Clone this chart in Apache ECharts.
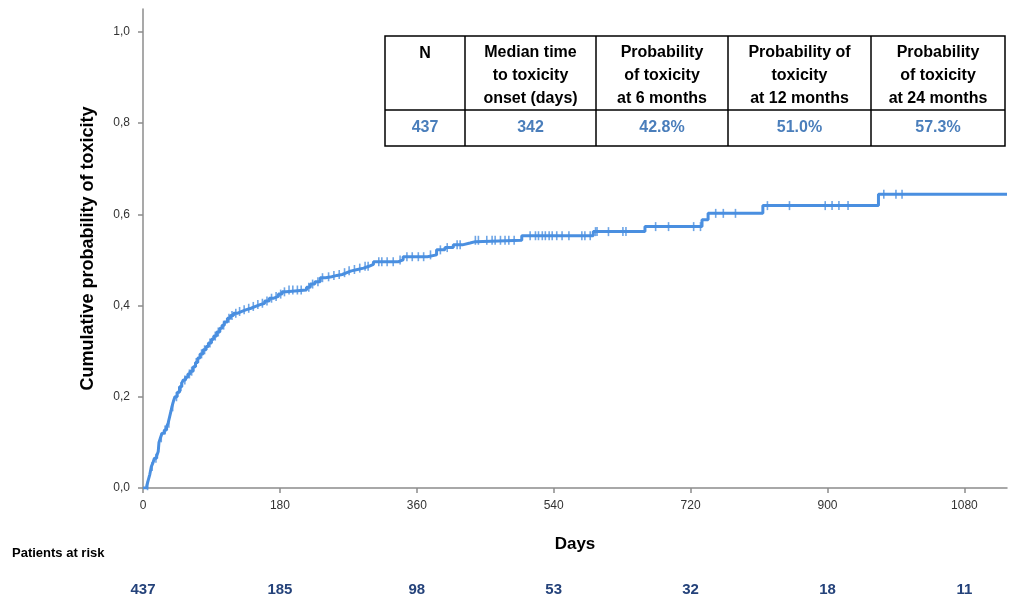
<!DOCTYPE html>
<html>
<head>
<meta charset="utf-8">
<script src="https://cdn.jsdelivr.net/npm/echarts@6/dist/echarts.min.js"></script>
<style>
html,body{margin:0;padding:0;background:#fff;}
#chart{width:1009px;height:600px;}
</style>
</head>
<body>
<div id="chart"></div>
<script>
// ---------- data ----------
const eventDays = [0,5,7,9,11,13,15,18,20,21,23,25,28,31,33,35,37,38,40,42,45,48,51,53,56,59,62,66,69,72,75,79,83,86,90,93,97,101,104,107,111,115,119,124,130,136,142,148,154,160,166,172,178,183,188,215,220,226,233,240,248,255,262,268,274,282,290,297,303,336,342,374,386,397,408,420,430,437,498,592,660,735,743,815,967,1136];
const cumProb  = [0,0.005,0.018,0.03,0.047,0.055,0.065,0.07,0.08,0.10,0.11,0.12,0.127,0.134,0.142,0.156,0.17,0.178,0.19,0.20,0.21,0.222,0.23,0.237,0.243,0.25,0.256,0.266,0.275,0.285,0.294,0.303,0.31,0.318,0.326,0.333,0.342,0.35,0.357,0.364,0.372,0.378,0.383,0.387,0.391,0.394,0.398,0.402,0.405,0.41,0.416,0.42,0.425,0.43,0.434,0.44,0.447,0.452,0.461,0.463,0.466,0.468,0.472,0.476,0.479,0.482,0.486,0.49,0.496,0.5,0.507,0.511,0.522,0.527,0.533,0.537,0.54,0.543,0.553,0.562,0.573,0.588,0.602,0.619,0.644,0.644];
const censorDays = [6,12,17,24,29,34,39,44,50,55,61,64,70,77,81,88,95,99,106,113,117,122,127,133,139,145,151,157,163,169,175,181,186,192,197,203,208,218,223,230,236,244,251,258,265,271,278,285,292,296,310,314,321,329,338,347,354,362,369,378,391,400,413,417,437,441,452,459,463,470,476,481,488,509,516,520,525,529,534,538,544,551,560,577,581,588,595,597,612,631,635,674,691,724,733,753,763,779,821,850,897,906,915,927,974,990,998];
const yTicks = [0,0.2,0.4,0.6,0.8,1.0];
const xTicks = [0,180,360,540,720,900,1080];
const atRisk = [437,185,98,53,32,18,11];
const tableHeaders = ['N','Median time\nto toxicity\nonset (days)','Probability\nof toxicity\nat 6 months','Probability of\ntoxicity\nat 12 months','Probability\nof toxicity\nat 24 months'];
const tableValues = ['437','342','42.8%','51.0%','57.3%'];

// ---------- helpers ----------
function stepAt(t){
  let v = 0;
  for (let i = 0; i < eventDays.length; i++) { if (eventDays[i] <= t) v = cumProb[i]; }
  return v;
}
const curve = eventDays.map((d,i)=>[d,cumProb[i]]);
const censors = censorDays.map(d=>[d, stepAt(d)]);

const FONT = '"Liberation Sans", Arial, sans-serif';
const BLUE = '#4a8fe0';

// table layout
const colX = [385,465,596,728,871,1005];
const rowY = [36,110,146];
const graphics = [];
graphics.push({type:'rect', shape:{x:colX[0], y:rowY[0], width:colX[5]-colX[0], height:rowY[2]-rowY[0]},
  style:{fill:'#fff', stroke:'#000', lineWidth:1.5}, z:10});
graphics.push({type:'line', shape:{x1:colX[0], y1:rowY[1], x2:colX[5], y2:rowY[1]}, style:{stroke:'#000', lineWidth:1.5}, z:11});
for (let i = 1; i < colX.length-1; i++) {
  graphics.push({type:'line', shape:{x1:colX[i], y1:rowY[0], x2:colX[i], y2:rowY[2]}, style:{stroke:'#000', lineWidth:1.5}, z:11});
}
for (let i = 0; i < tableHeaders.length; i++) {
  const cx = (colX[i]+colX[i+1])/2;
  const lines = tableHeaders[i].split('\n').length;
  graphics.push({type:'text', x:cx, y: lines===1 ? 54 : (rowY[0]+rowY[1])/2 + 3, z:12,
    style:{text:tableHeaders[i], fill:'#000', font:'bold 16px '+FONT, align:'center', verticalAlign: 'middle', lineHeight:23}});
  graphics.push({type:'text', x:cx, y:(rowY[1]+rowY[2])/2, z:12,
    style:{text:tableValues[i], fill:'#4a7ebb', font:'bold 16px '+FONT, align:'center', verticalAlign:'middle'}});
}
graphics.push({type:'text', left:12, top:547, style:{text:'Patients at risk', fill:'#000', font:'bold 13px '+FONT}});

const chart = echarts.init(document.getElementById('chart'));
chart.setOption({
  animation:false,
  backgroundColor:'#fff',
  grid:{left:143, right:2, top:9, bottom:112},
  xAxis:[{
    type:'value', min:0, max:1136,
    name:'Days', nameLocation:'middle', nameGap:48,
    nameTextStyle:{fontFamily:FONT, fontWeight:'bold', fontSize:17, color:'#000'},
    axisLine:{show:true, lineStyle:{color:'#8c8c8c', width:1.5}},
    axisTick:{show:true, length:5, lineStyle:{color:'#8c8c8c', width:1.5}, customValues:xTicks},
    axisLabel:{customValues:xTicks, fontFamily:FONT, fontSize:12, color:'#333', margin:12,
      formatter:(v)=>String(v)},
    splitLine:{show:false}
  },{
    type:'value', min:0, max:1136, position:'bottom', offset:86,
    axisLine:{show:false}, axisTick:{show:false}, splitLine:{show:false},
    axisLabel:{customValues:xTicks, fontFamily:FONT, fontSize:15, fontWeight:'bold', color:'#24427a',
      formatter:(v)=>{const i = xTicks.indexOf(v); return i>=0 ? String(atRisk[i]) : '';}}
  }],
  yAxis:{
    type:'value', min:0, max:1.05,
    name:'Cumulative probability of toxicity', nameLocation:'middle', nameGap:46,
    nameTextStyle:{fontFamily:FONT, fontWeight:'bold', fontSize:18, color:'#000'},
    axisLine:{show:true, lineStyle:{color:'#8c8c8c', width:1.5}},
    axisTick:{show:true, length:5, lineStyle:{color:'#8c8c8c', width:1.5}, customValues:yTicks},
    axisLabel:{customValues:yTicks, fontFamily:FONT, fontSize:12, color:'#333', margin:13,
      formatter:(v)=>v.toFixed(1).replace('.',',')},
    splitLine:{show:false}
  },
  series:[{
    type:'line', data:curve, step:'end', showSymbol:false, symbol:'none',
    lineStyle:{color:BLUE, width:3}, z:3
  },{
    type:'scatter', data:censors, symbol:'rect', symbolSize:[1.6,9],
    itemStyle:{color:BLUE}, z:4
  }],
  graphic:graphics
});
</script>
</body>
</html>
